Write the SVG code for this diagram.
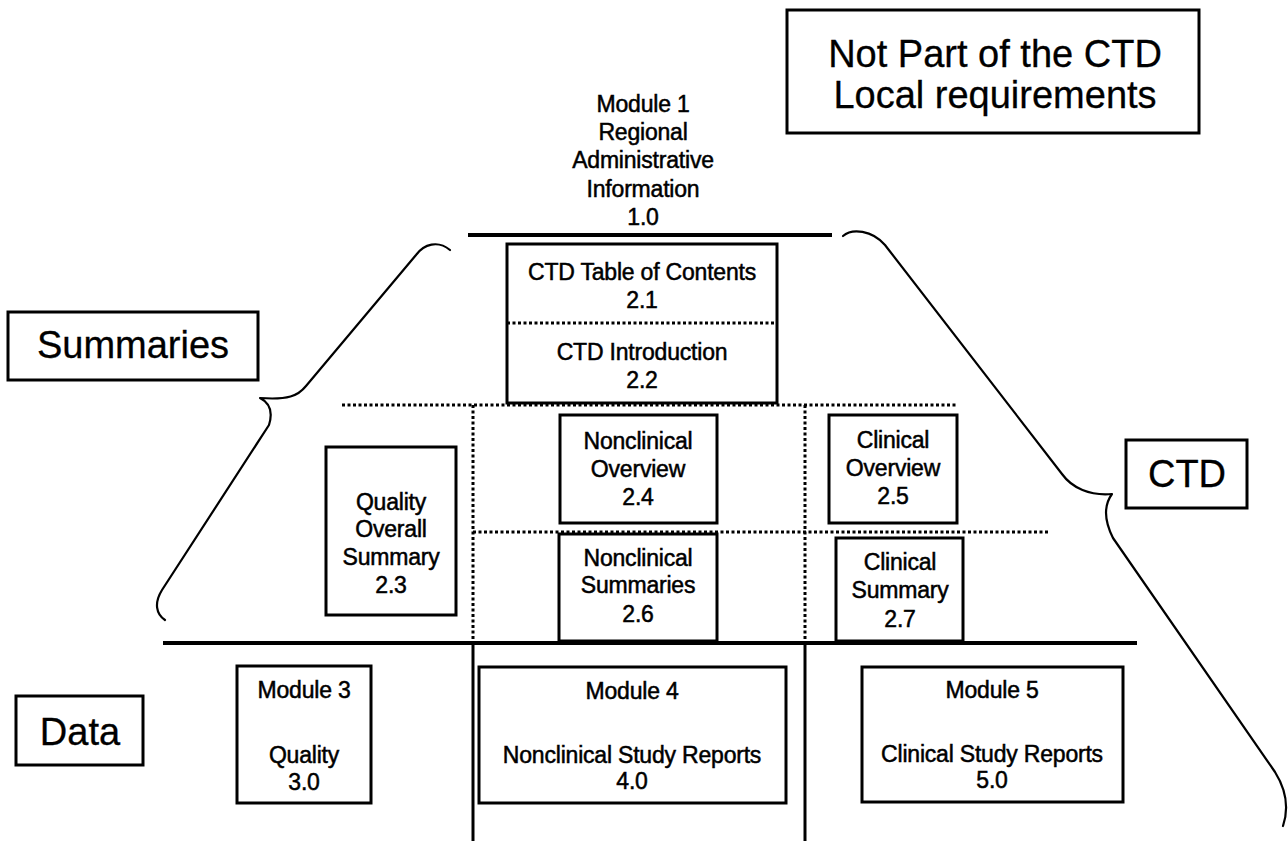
<svg xmlns="http://www.w3.org/2000/svg" width="1288" height="841" viewBox="0 0 1288 841">
  <style>
    .bg { fill: #ffffff; }
    .box { fill: none; stroke: #000; stroke-width: 3; }
    .lbl { fill: none; stroke: #000; stroke-width: 3; }
    .t { font-family: "Liberation Sans", Arial, Helvetica, sans-serif; font-size: 23px; fill: #000; stroke: #000; stroke-width: 0.5; text-anchor: middle; letter-spacing: -0.2px; }
    .big { font-family: "Liberation Sans", Arial, Helvetica, sans-serif; font-size: 38px; fill: #000; stroke: #000; stroke-width: 0.3; text-anchor: middle; }
    .rule { stroke: #000; stroke-width: 4; fill: none; }
    .solid { stroke: #000; stroke-width: 3; fill: none; }
    .dot { stroke: #000; stroke-width: 3; stroke-dasharray: 3 2.5; fill: none; }
    .brace { stroke: #000; stroke-width: 2.2; fill: none; stroke-linejoin: round; stroke-linecap: round; }
  </style>
  <rect class="bg" x="0" y="0" width="1288" height="841"/>

  <!-- structural lines, dividers and braces -->
  <g id="connectors">
    <line class="rule" x1="468" y1="235" x2="832" y2="235"/>
    <line class="rule" x1="163" y1="643" x2="1137" y2="643"/>
    <line class="solid" x1="473" y1="643" x2="473" y2="841"/>
    <line class="solid" x1="805" y1="643" x2="805" y2="841"/>
    <line class="dot" x1="342" y1="405" x2="957" y2="405"/>
    <line class="dot" x1="473" y1="532" x2="1050" y2="532"/>
    <line class="dot" x1="473" y1="405" x2="473" y2="643"/>
    <line class="dot" x1="805" y1="405" x2="805" y2="643"/>
    <line class="dot" x1="507" y1="323" x2="777" y2="323"/>
    <path class="brace" d="M450,250 C438,240 424,244 416,255 L306,386 C298,396 288,400 260,398 C270,403 273,412 269,425 L162,590 C154,603 156,614 165,620"/>
    <path class="brace" d="M843,236 C852,228 872,230 885,245 L1062,474 C1072,488 1090,496 1112,494 C1104,505 1104,520 1113,538 L1275,772 C1285,788 1290,805 1283,826"/>
  </g>

  <g id="not-part">
    <rect class="lbl" x="787" y="10" width="412" height="123"/>
    <text class="big" x="995" y="67">Not Part of the CTD</text>
    <text class="big" x="995" y="108">Local requirements</text>
  </g>

  <g id="module1">
    <text class="t" x="643" y="112">Module 1</text>
    <text class="t" x="643" y="140">Regional</text>
    <text class="t" x="643" y="168">Administrative</text>
    <text class="t" x="643" y="197">Information</text>
    <text class="t" x="643" y="225">1.0</text>
  </g>

  <g id="ctd-toc-intro">
    <rect class="box" x="507" y="244" width="270" height="159"/>
    <text class="t" x="642" y="280">CTD Table of Contents</text>
    <text class="t" x="642" y="308">2.1</text>
    <text class="t" x="642" y="360">CTD Introduction</text>
    <text class="t" x="642" y="388">2.2</text>
  </g>

  <g id="summaries-label">
    <rect class="lbl" x="8" y="312" width="250" height="68"/>
    <text class="big" x="133" y="358">Summaries</text>
  </g>

  <g id="ctd-label">
    <rect class="lbl" x="1126" y="440" width="121" height="68"/>
    <text class="big" x="1187" y="487">CTD</text>
  </g>

  <g id="data-label">
    <rect class="lbl" x="16" y="696" width="127" height="69"/>
    <text class="big" x="80" y="745">Data</text>
  </g>

  <g id="qos">
    <rect class="box" x="326" y="447" width="130" height="168"/>
    <text class="t" x="391" y="510">Quality</text>
    <text class="t" x="391" y="537">Overall</text>
    <text class="t" x="391" y="565">Summary</text>
    <text class="t" x="391" y="593">2.3</text>
  </g>

  <g id="nonclinical-overview">
    <rect class="box" x="560" y="415" width="157" height="108"/>
    <text class="t" x="638" y="449">Nonclinical</text>
    <text class="t" x="638" y="477">Overview</text>
    <text class="t" x="638" y="505">2.4</text>
  </g>

  <g id="nonclinical-summaries">
    <rect class="box" x="559" y="534" width="158" height="107"/>
    <text class="t" x="638" y="566">Nonclinical</text>
    <text class="t" x="638" y="593">Summaries</text>
    <text class="t" x="638" y="622">2.6</text>
  </g>

  <g id="clinical-overview">
    <rect class="box" x="829" y="415" width="128" height="108"/>
    <text class="t" x="893" y="448">Clinical</text>
    <text class="t" x="893" y="476">Overview</text>
    <text class="t" x="893" y="504">2.5</text>
  </g>

  <g id="clinical-summary">
    <rect class="box" x="836" y="538" width="127" height="103"/>
    <text class="t" x="900" y="570">Clinical</text>
    <text class="t" x="900" y="598">Summary</text>
    <text class="t" x="900" y="627">2.7</text>
  </g>

  <g id="module3">
    <rect class="box" x="237" y="666" width="134" height="137"/>
    <text class="t" x="304" y="698">Module 3</text>
    <text class="t" x="304" y="763">Quality</text>
    <text class="t" x="304" y="790">3.0</text>
  </g>

  <g id="module4">
    <rect class="box" x="479" y="667" width="307" height="136"/>
    <text class="t" x="632" y="699">Module 4</text>
    <text class="t" x="632" y="763">Nonclinical Study Reports</text>
    <text class="t" x="632" y="789">4.0</text>
  </g>

  <g id="module5">
    <rect class="box" x="862" y="667" width="261" height="135"/>
    <text class="t" x="992" y="698">Module 5</text>
    <text class="t" x="992" y="762">Clinical Study Reports</text>
    <text class="t" x="992" y="788">5.0</text>
  </g>
</svg>
